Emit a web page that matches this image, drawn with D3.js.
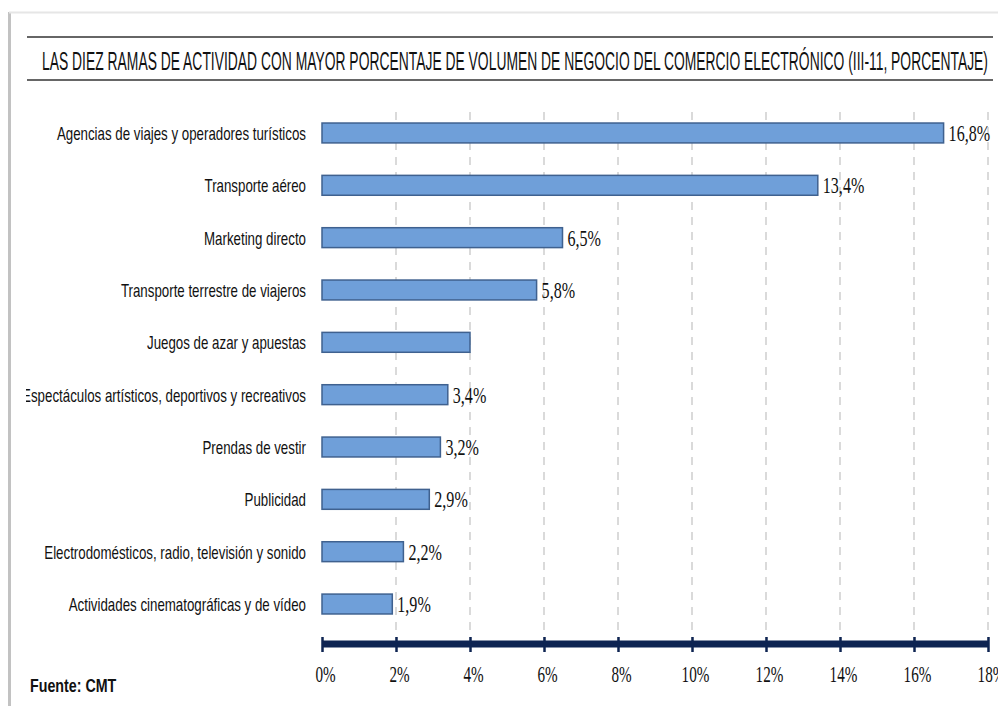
<!DOCTYPE html>
<html>
<head>
<meta charset="utf-8">
<script src="https://cdn.jsdelivr.net/npm/d3@7/dist/d3.min.js"></script>
<style>
  html, body { margin: 0; padding: 0; background: #ffffff; }
  svg { display: block; }
</style>
</head>
<body>
<svg id="chart" width="998" height="706"></svg>
<script>
// Ten branches of activity with highest share of e-commerce turnover (III-11, %)
const categories = [
  "Agencias de viajes y operadores turísticos",
  "Transporte aéreo",
  "Marketing directo",
  "Transporte terrestre de viajeros",
  "Juegos de azar y apuestas",
  "Espectáculos artísticos, deportivos y recreativos",
  "Prendas de vestir",
  "Publicidad",
  "Electrodomésticos, radio, televisión y sonido",
  "Actividades cinematográficas y de vídeo"
];
const values = [16.8, 13.4, 6.5, 5.8, 4.0, 3.4, 3.2, 2.9, 2.2, 1.9];
const valueLabels = ["16,8%", "13,4%", "6,5%", "5,8%", null, "3,4%", "3,2%", "2,9%", "2,2%", "1,9%"];
const tickValues = [0, 2, 4, 6, 8, 10, 12, 14, 16, 18];
const titleText = "LAS DIEZ RAMAS DE ACTIVIDAD CON MAYOR PORCENTAJE DE VOLUMEN DE NEGOCIO DEL COMERCIO ELECTRÓNICO (III-11, PORCENTAJE)";
const sourceText = "Fuente: CMT";

const svg = d3.select("#chart");

// squeeze text horizontally to imitate a condensed typeface
function condense(sel, factor) {
  sel.each(function () {
    const w = this.getComputedTextLength();
    this.setAttribute("textLength", (w * factor).toFixed(1));
    this.setAttribute("lengthAdjust", "spacingAndGlyphs");
  });
}

// panel frame shadow
svg.append("line").attr("x1", 9.5).attr("x2", 9.5).attr("y1", 12).attr("y2", 706)
  .attr("stroke", "#c2c2c2").attr("stroke-width", 3);
svg.append("line").attr("x1", 9).attr("x2", 998).attr("y1", 12.5).attr("y2", 12.5)
  .attr("stroke", "#e6e6e6").attr("stroke-width", 2);

// title block
svg.append("line").attr("x1", 27).attr("x2", 993).attr("y1", 37).attr("y2", 37)
  .attr("stroke", "#333").attr("stroke-width", 1.5);
svg.append("line").attr("x1", 27).attr("x2", 993).attr("y1", 80).attr("y2", 80)
  .attr("stroke", "#333").attr("stroke-width", 1.5);
svg.append("text")
  .attr("x", 42).attr("y", 70)
  .attr("font-family", "Liberation Sans, Arial, sans-serif")
  .attr("font-size", 26)
  .attr("fill", "#111")
  .attr("textLength", 946).attr("lengthAdjust", "spacingAndGlyphs")
  .text(titleText);

// scales
const x = d3.scaleLinear().domain([0, 18]).range([322, 988]);
const y = d3.scaleBand().domain(categories).range([106.8, 630.2])
  .paddingInner(0.62).paddingOuter(0.31);

// dashed vertical gridlines
svg.append("g").selectAll("line")
  .data(tickValues.filter(d => d > 0))
  .join("line")
  .attr("x1", d => x(d)).attr("x2", d => x(d))
  .attr("y1", 112).attr("y2", 640)
  .attr("stroke", "#b5b5b5").attr("stroke-width", 1)
  .attr("stroke-dasharray", "8,7");

// bars
svg.append("g").selectAll("rect")
  .data(values)
  .join("rect")
  .attr("x", x(0))
  .attr("y", (d, i) => y(categories[i]))
  .attr("width", d => x(d) - x(0))
  .attr("height", y.bandwidth())
  .attr("fill", "#6f9fd9")
  .attr("stroke", "#3f618f")
  .attr("stroke-width", 1.5);

// value labels
const vl = svg.append("g").selectAll("text")
  .data(values.map((v, i) => ({ v, label: valueLabels[i], cat: categories[i] })).filter(d => d.label))
  .join("text")
  .attr("x", d => x(d.v) + 5)
  .attr("y", d => y(d.cat) + y.bandwidth() / 2 + 8)
  .attr("font-family", "Liberation Serif, Times New Roman, serif")
  .attr("font-size", 24)
  .attr("fill", "#111")
  .text(d => d.label);
condense(vl, 0.67);

// category labels (clipped by the panel edge)
svg.append("clipPath").attr("id", "labelClip")
  .append("rect").attr("x", 26).attr("y", 90).attr("width", 300).attr("height", 560);
const cl = svg.append("g").attr("clip-path", "url(#labelClip)")
  .selectAll("text")
  .data(categories)
  .join("text")
  .attr("x", 306)
  .attr("y", d => y(d) + y.bandwidth() / 2 + 7)
  .attr("text-anchor", "end")
  .attr("font-family", "Liberation Sans, Arial, sans-serif")
  .attr("font-size", 19)
  .attr("fill", "#111")
  .text(d => d);
condense(cl, 0.7);

// bottom axis
const axis = svg.append("g")
  .attr("transform", "translate(0,644)")
  .call(d3.axisBottom(x).tickValues(tickValues).tickFormat(d => d + "%").tickSize(8).tickPadding(14));
axis.select(".domain").attr("stroke", "#0e2452").attr("stroke-width", 7).attr("d", `M${x(0)},0H${x(18)}`);
axis.selectAll(".tick line").attr("stroke", "#0e2452").attr("stroke-width", 2.5).attr("y1", -7);
const tl = axis.selectAll(".tick text")
  .attr("font-family", "Liberation Serif, Times New Roman, serif")
  .attr("font-size", 23)
  .attr("fill", "#111")
  .attr("dx", 3);
condense(tl, 0.66);

// source note
const src = svg.append("text")
  .attr("x", 30).attr("y", 692)
  .attr("font-family", "Liberation Sans, Arial, sans-serif")
  .attr("font-size", 19)
  .attr("font-weight", "bold")
  .attr("fill", "#111")
  .text(sourceText);
condense(src, 0.75);
</script>
</body>
</html>
